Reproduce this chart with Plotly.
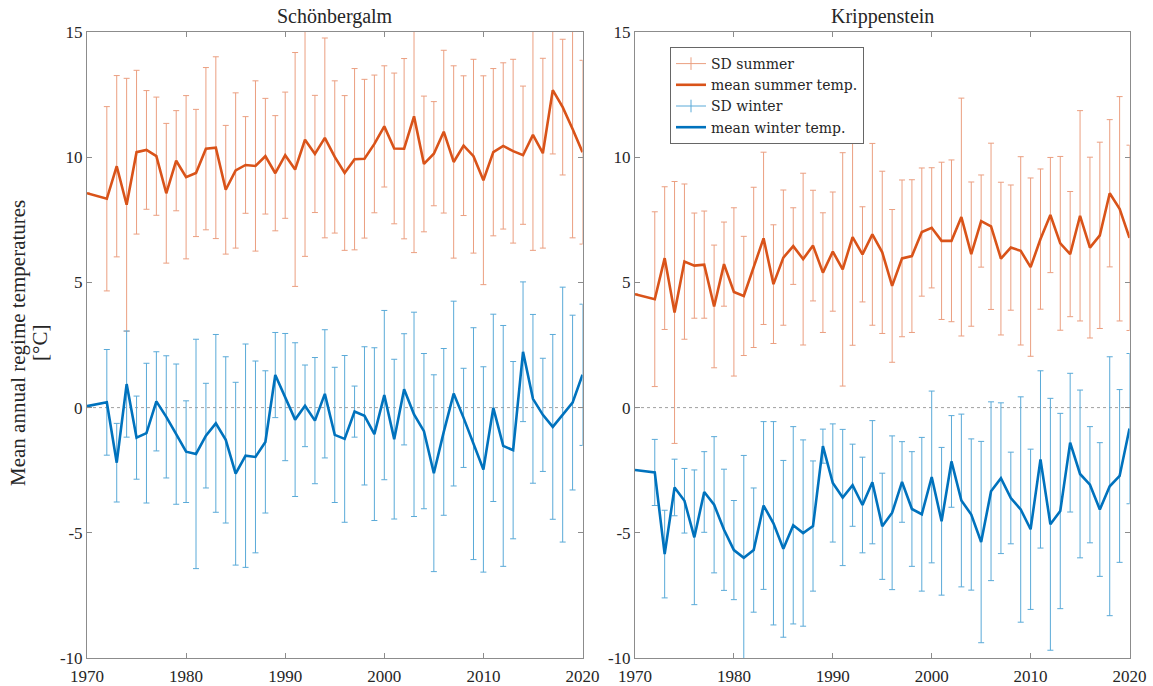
import plotly.graph_objects as go

# Years with data (1971 has no record)
years = [1970] + list(range(1972, 2021))

# Schönbergalm
sch_summer_mean = [8.56, 8.34, 9.64, 8.10, 10.20, 10.29, 10.04, 8.56, 9.86, 9.20,
                   9.37, 10.34, 10.38, 8.70, 9.47, 9.69, 9.65, 10.04, 9.36, 10.08,
                   9.51, 10.70, 10.13, 10.77, 10.01, 9.37, 9.92, 9.94, 10.53, 11.23,
                   10.35, 10.34, 11.63, 9.73, 10.14, 11.02, 9.81, 10.46, 10.04, 9.08,
                   10.20, 10.45, 10.24, 10.08, 10.89, 10.16, 12.68, 12.00, 11.13, 10.20]
sch_summer_sd = [None, 3.68, 3.62, 5.05, 3.27, 2.37, 2.36, 2.79, 2.00, 3.26,
                 2.54, 3.24, 3.63, 2.57, 3.10, 1.93, 3.40, 2.31, 2.30, 2.52,
                 4.67, 4.66, 2.34, 3.99, 3.04, 3.09, 3.62, 3.17, 2.75, 2.42,
                 3.01, 3.60, 5.44, 2.71, 2.08, 3.25, 3.84, 2.79, 3.87, 4.17,
                 3.34, 3.32, 3.67, 2.76, 4.61, 3.79, 2.55, 2.71, 4.35, 3.67]
sch_winter_mean = [0.06, 0.21, -2.20, 0.94, -1.20, -1.02, 0.25, -0.37, -1.06, -1.76,
                   -1.85, -1.12, -0.63, -1.29, -2.64, -1.92, -1.97, -1.37, 1.30, 0.42,
                   -0.48, 0.07, -0.52, 0.55, -1.09, -1.25, -0.16, -0.33, -1.06, 0.50,
                   -1.26, 0.73, -0.27, -0.94, -2.62, -0.97, 0.56, -0.41, -1.44, -2.47,
                   -0.01, -1.53, -1.70, 2.23, 0.35, -0.29, -0.77, -0.28, 0.20, 1.31]
sch_winter_sd = [None, 2.11, 1.57, 2.12, 1.66, 2.79, 1.98, 2.44, 2.80, 2.03,
                 4.58, 2.09, 3.55, 3.32, 3.65, 4.46, 3.83, 2.84, 1.70, 2.54,
                 3.07, 1.63, 2.52, 2.56, 2.70, 3.33, 1.02, 2.76, 3.45, 3.38,
                 3.19, 2.22, 4.08, 3.10, 3.93, 3.33, 3.69, 1.98, 4.63, 4.10,
                 3.74, 4.81, 3.54, 2.79, 3.37, 2.26, 3.69, 5.09, 3.49, 2.82]

# Krippenstein
kri_summer_mean = [4.53, 4.33, 5.97, 3.80, 5.83, 5.67, 5.71, 4.04, 5.73, 4.62,
                   4.46, 5.60, 6.76, 4.93, 5.99, 6.45, 5.93, 6.47, 5.39, 6.23,
                   5.52, 6.81, 6.12, 6.92, 6.20, 4.86, 5.96, 6.05, 7.01, 7.18,
                   6.66, 6.66, 7.61, 6.13, 7.45, 7.24, 5.95, 6.39, 6.26, 5.61,
                   6.73, 7.69, 6.56, 6.13, 7.66, 6.39, 6.88, 8.56, 7.94, 6.78]
kri_summer_sd = [None, 3.49, 2.85, 5.23, 3.10, 2.10, 2.14, 2.45, 1.68, 3.36,
                 2.38, 3.20, 3.44, 2.37, 2.70, 1.53, 3.43, 2.21, 2.39, 2.38,
                 4.66, 4.32, 1.90, 3.63, 3.24, 3.05, 3.13, 3.05, 2.56, 2.40,
                 3.14, 3.23, 4.75, 2.88, 1.84, 3.32, 3.05, 2.50, 3.76, 3.56,
                 2.80, 2.30, 3.47, 2.50, 4.20, 3.61, 3.72, 2.94, 4.48, 3.70]
kri_winter_mean = [-2.49, -2.59, -5.85, -3.19, -3.72, -5.18, -3.37, -3.88, -4.88, -5.69,
                   -6.00, -5.69, -3.91, -4.62, -5.64, -4.70, -5.01, -4.73, -1.54, -3.01,
                   -3.59, -3.10, -3.89, -2.98, -4.74, -4.20, -2.97, -4.05, -4.26, -2.77,
                   -4.54, -2.15, -3.71, -4.27, -5.37, -3.34, -2.82, -3.61, -4.07, -4.86,
                   -2.07, -4.66, -4.13, -1.40, -2.65, -3.08, -4.07, -3.14, -2.73, -0.84]
kri_winter_sd = [None, 1.32, 1.75, 1.13, 1.29, 2.69, 1.61, 2.72, 2.42, 1.98,
                 4.09, 2.48, 3.35, 4.06, 3.53, 3.94, 3.72, 2.60, 0.68, 2.36,
                 2.72, 1.64, 1.91, 2.46, 2.12, 3.07, 1.61, 2.29, 3.07, 3.43,
                 2.95, 1.83, 3.45, 3.02, 4.02, 3.57, 3.01, 1.83, 4.50, 3.20,
                 3.54, 5.03, 3.90, 2.77, 3.35, 2.32, 2.67, 5.17, 3.45, 3.00]

stations = ["Schönbergalm", "Krippenstein"]
y_title_lines = ["Mean annual regime temperatures", "[°C]"]
x_ticks = [1970, 1980, 1990, 2000, 2010, 2020]
y_ticks = [-10, -5, 0, 5, 10, 15]
y_tick_labels = ["-10", "-5", "0", "5", "10", "15"]

SUMMER = "#D95319"
SUMMER_SD = "#EB9F80"
WINTER = "#0072BD"
WINTER_SD = "#5AAAD8"
AXIS = "#8C8C8C"
TEXT = "#262626"
FONT = "Liberation Serif"

panels = [
    (sch_summer_mean, sch_summer_sd, sch_winter_mean, sch_winter_sd),
    (kri_summer_mean, kri_summer_sd, kri_winter_mean, kri_winter_sd),
]

fig = go.Figure()

for i, (s_mean, s_sd, w_mean, w_sd) in enumerate(panels):
    xa = "x" if i == 0 else "x2"
    ya = "y" if i == 0 else "y2"
    for mean, sd, col in ((s_mean, s_sd, SUMMER_SD), (w_mean, w_sd, WINTER_SD)):
        fig.add_trace(go.Scatter(
            x=years, y=mean, mode="markers",
            marker=dict(size=1, color="rgba(0,0,0,0)"),
            error_y=dict(type="data", array=sd, symmetric=True,
                         color=col, thickness=1, width=3),
            xaxis=xa, yaxis=ya, showlegend=False, hoverinfo="skip"))
    fig.add_trace(go.Scatter(
        x=years, y=s_mean, mode="lines", line=dict(color=SUMMER, width=2.6),
        name="mean summer temp.", legendrank=2, showlegend=(i == 1),
        xaxis=xa, yaxis=ya))
    fig.add_trace(go.Scatter(
        x=years, y=w_mean, mode="lines", line=dict(color=WINTER, width=2.6),
        name="mean winter temp.", legendrank=4, showlegend=(i == 1),
        xaxis=xa, yaxis=ya))

# Legend glyphs for the standard-deviation bars
for name, col, rank in (("SD summer", SUMMER_SD, 1), ("SD winter", WINTER_SD, 3)):
    fig.add_trace(go.Scatter(
        x=[None], y=[None], mode="lines+markers", name=name, legendrank=rank,
        line=dict(color=col, width=1),
        marker=dict(symbol="line-ns-open", size=9, color=col,
                    line=dict(color=col, width=1)),
        xaxis="x2", yaxis="y2"))

W, H = 1153, 686
left_dom = [87 / W, 582.5 / W]
right_dom = [635 / W, 1129.5 / W]
y_dom = [1 - 658 / H, 1 - 32 / H]

axis_common = dict(showgrid=False, zeroline=False, showline=True, linecolor=AXIS,
                   linewidth=1, mirror="ticks", ticks="inside", ticklen=5,
                   tickcolor=AXIS, automargin=False,
                   tickfont=dict(family=FONT, size=17, color=TEXT))
x_common = dict(range=[1970, 2020], tickvals=x_ticks, ticklabelstandoff=3, **axis_common)
y_common = dict(domain=y_dom, range=[-10, 15], tickvals=y_ticks,
                ticktext=y_tick_labels, **axis_common)

fig.update_layout(
    width=W, height=H,
    margin=dict(l=0, r=0, t=0, b=0, autoexpand=False),
    paper_bgcolor="white", plot_bgcolor="white",
    xaxis=dict(domain=left_dom, anchor="y", **x_common),
    yaxis=dict(anchor="x", **y_common),
    xaxis2=dict(domain=right_dom, anchor="y2", **x_common),
    yaxis2=dict(anchor="x2", **y_common),
    showlegend=True,
    legend=dict(x=670 / W, y=1 - 47 / H, xanchor="left", yanchor="top",
                bgcolor="white", bordercolor="#666666", borderwidth=1,
                font=dict(family="DejaVu Serif", size=14, color=TEXT),
                itemwidth=30, tracegroupgap=0),
)

# Zero reference line in each panel
for xa, ya in (("x", "y"), ("x2", "y2")):
    fig.add_shape(type="line", xref=f"{xa} domain", yref=ya, x0=0, x1=1, y0=0, y1=0,
                  line=dict(color="#A0A0A0", width=1, dash="dot"), layer="below")

# Panel titles
for dom, name in ((left_dom, stations[0]), (right_dom, stations[1])):
    fig.add_annotation(x=(dom[0] + dom[1]) / 2, y=1 - 17 / H, xref="paper", yref="paper",
                       text=name, showarrow=False, xanchor="center", yanchor="middle",
                       font=dict(family=FONT, size=20, color=TEXT))

# Two-line vertical axis title
for xpix, line in zip((18, 40), y_title_lines):
    fig.add_annotation(x=xpix / W, y=1 - 343 / H, xref="paper", yref="paper",
                       text=line, textangle=-90, showarrow=False,
                       xanchor="center", yanchor="middle",
                       font=dict(family=FONT, size=21, color=TEXT))

fig.write_html("out.html")
